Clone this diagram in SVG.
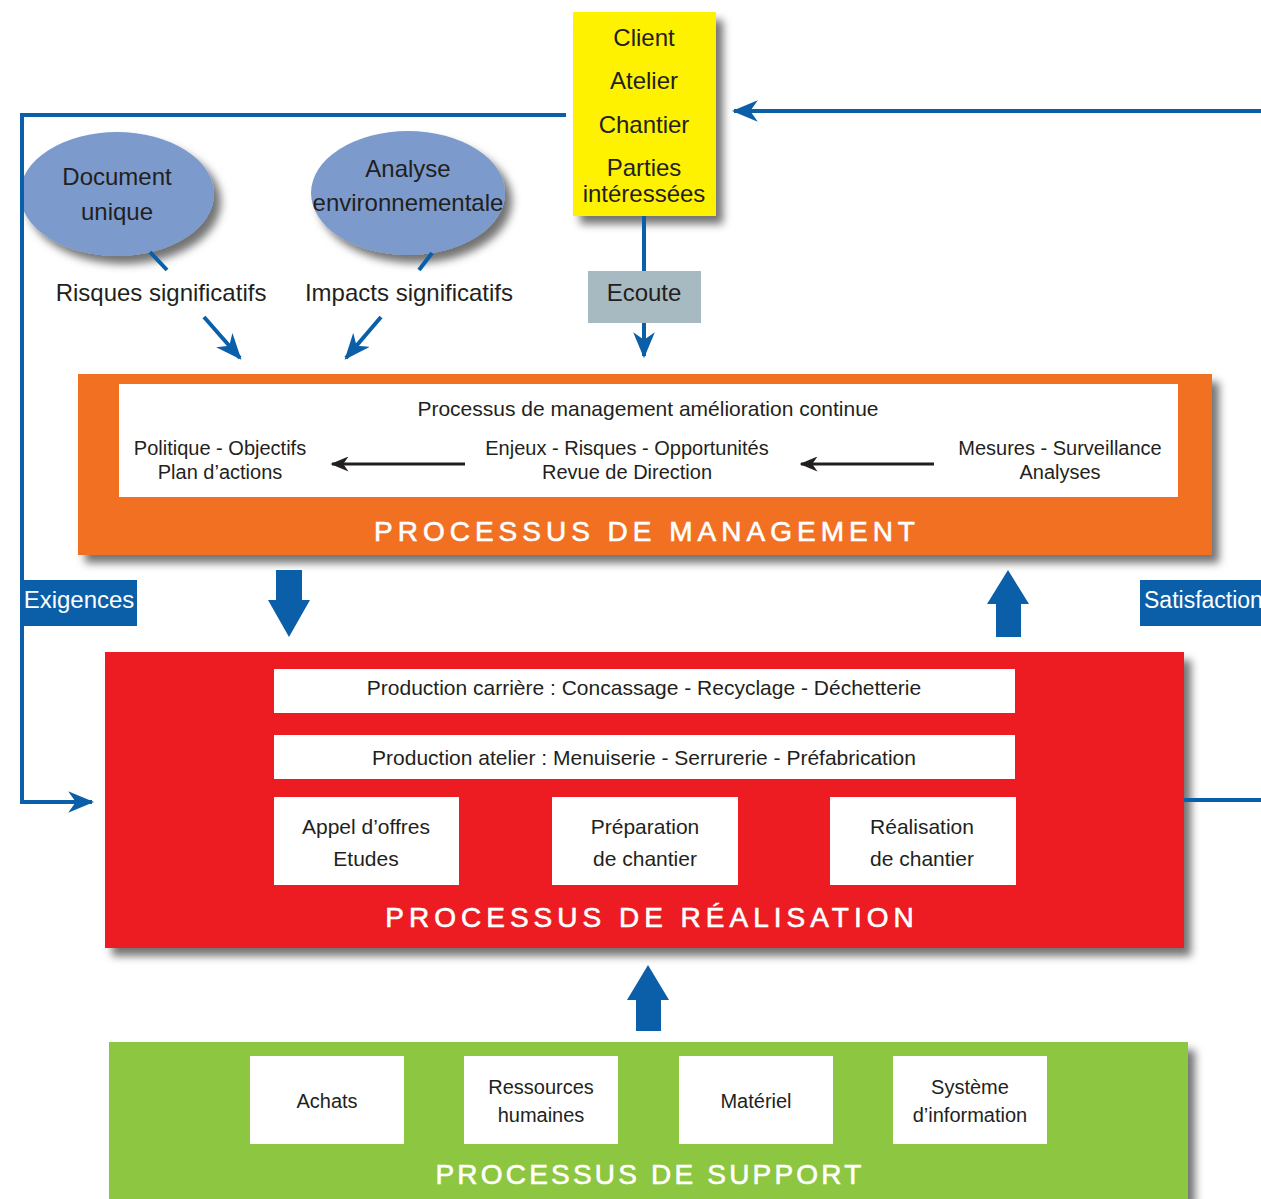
<svg xmlns="http://www.w3.org/2000/svg" width="1261" height="1199" viewBox="0 0 1261 1199">
<style>
.t{font-family:"Liberation Sans",Arial,sans-serif;fill:#231f20;text-anchor:middle}
.lg{font-size:24px}
.md{font-size:21px}
.sm{font-size:20px}
.title{font-family:"Liberation Sans",Arial,sans-serif;fill:#ffffff;stroke:#ffffff;stroke-width:0.6;font-size:28px;letter-spacing:5px;text-anchor:middle}
.lbl{font-family:"Liberation Sans",Arial,sans-serif;fill:#ffffff;font-size:24px;text-anchor:middle}
.blue{stroke:#0b5fa8;stroke-width:4;fill:none}
.black{stroke:#231f20;stroke-width:3;fill:none}
.box{fill:#ffffff}
.fat{fill:#0b5fa8}
</style>
<defs>
<filter id="sh" x="-10%" y="-10%" width="130%" height="140%">
<feDropShadow dx="7" dy="8" stdDeviation="4" flood-color="#000" flood-opacity="0.55"/>
</filter>
<marker id="ab" viewBox="0 0 12 10" refX="11" refY="5" markerWidth="6.5" markerHeight="5.5" orient="auto" markerUnits="strokeWidth">
<path d="M0,0 L12,5 L0,10 L3.5,5 z" fill="#0b5fa8"/>
</marker>
<marker id="ak" viewBox="0 0 12 10" refX="11" refY="5" markerWidth="8" markerHeight="5" orient="auto" markerUnits="strokeWidth">
<path d="M0,0 L12,5 L0,10 L3.5,5 z" fill="#231f20"/>
</marker>
</defs>
<rect width="1261" height="1199" fill="#ffffff"/>

<g id="stakeholders">
<rect x="573" y="12" width="143" height="204" fill="#fff200" filter="url(#sh)"/>
<text class="t lg" x="644" y="46">Client</text>
<text class="t lg" x="644" y="89">Atelier</text>
<text class="t lg" x="644" y="133">Chantier</text>
<text class="t lg" x="644" y="176">Parties</text>
<text class="t lg" x="644" y="202">intéressées</text>
</g>

<g id="ecoute">
<rect x="588" y="271" width="113" height="52" fill="#a7b9c1"/>
<text class="t lg" x="644" y="301">Ecoute</text>
</g>

<g id="document-unique">
<ellipse cx="117" cy="194" rx="97" ry="62" fill="#7b9acc" filter="url(#sh)"/>
<text class="t lg" x="117" y="185">Document</text>
<text class="t lg" x="117" y="220">unique</text>
</g>

<g id="analyse-env">
<ellipse cx="408" cy="193" rx="97" ry="62" fill="#7b9acc" filter="url(#sh)"/>
<text class="t lg" x="408" y="177">Analyse</text>
<text class="t lg" x="408" y="211">environnementale</text>
</g>

<g id="risques-label">
<text class="t lg" x="161" y="301">Risques significatifs</text>
</g>
<g id="impacts-label">
<text class="t lg" x="409" y="301">Impacts significatifs</text>
</g>

<g id="management">
<rect x="78" y="374" width="1134" height="181" fill="#f26f21" filter="url(#sh)"/>
<rect class="box" x="119" y="384" width="1059" height="113"/>
<text class="t md" x="648" y="416">Processus de management amélioration continue</text>
<text class="t sm" x="220" y="455">Politique - Objectifs</text>
<text class="t sm" x="220" y="479">Plan d’actions</text>
<text class="t sm" x="627" y="455">Enjeux - Risques - Opportunités</text>
<text class="t sm" x="627" y="479">Revue de Direction</text>
<text class="t sm" x="1060" y="455">Mesures - Surveillance</text>
<text class="t sm" x="1060" y="479">Analyses</text>
<text class="title" x="647" y="541">PROCESSUS DE MANAGEMENT</text>
</g>

<g id="exigences">
<rect x="22" y="580" width="115" height="46" fill="#0b5fa8"/>
<text class="lbl" x="79" y="608">Exigences</text>
</g>

<g id="satisfaction">
<rect x="1140" y="580" width="125" height="46" fill="#0b5fa8"/>
<text class="lbl" x="1144" y="608" style="text-anchor:start;font-size:23px">Satisfaction</text>
</g>

<g id="realisation">
<rect x="105" y="652" width="1079" height="296" fill="#ed1c24" filter="url(#sh)"/>
<rect class="box" x="274" y="669" width="741" height="44"/>
<text class="t md" x="644" y="695">Production carrière : Concassage - Recyclage - Déchetterie</text>
<rect class="box" x="274" y="735" width="741" height="44"/>
<text class="t md" x="644" y="765">Production atelier : Menuiserie - Serrurerie - Préfabrication</text>
<rect class="box" x="274" y="797" width="185" height="88"/>
<text class="t md" x="366" y="834">Appel d’offres</text>
<text class="t md" x="366" y="866">Etudes</text>
<rect class="box" x="552" y="797" width="186" height="88"/>
<text class="t md" x="645" y="834">Préparation</text>
<text class="t md" x="645" y="866">de chantier</text>
<rect class="box" x="830" y="797" width="186" height="88"/>
<text class="t md" x="922" y="834">Réalisation</text>
<text class="t md" x="922" y="866">de chantier</text>
<text class="title" x="652" y="927">PROCESSUS DE RÉALISATION</text>
</g>

<g id="support">
<rect x="109" y="1042" width="1079" height="170" fill="#8dc63f" filter="url(#sh)"/>
<rect class="box" x="250" y="1056" width="154" height="88"/>
<text class="t sm" x="327" y="1108">Achats</text>
<rect class="box" x="464" y="1056" width="154" height="88"/>
<text class="t sm" x="541" y="1094">Ressources</text>
<text class="t sm" x="541" y="1122">humaines</text>
<rect class="box" x="679" y="1056" width="154" height="88"/>
<text class="t sm" x="756" y="1108">Matériel</text>
<rect class="box" x="893" y="1056" width="154" height="88"/>
<text class="t sm" x="970" y="1094">Système</text>
<text class="t sm" x="970" y="1122">d’information</text>
<text class="title" x="650" y="1184" style="letter-spacing:3.2px">PROCESSUS DE SUPPORT</text>
</g>

<g id="connectors">
<polyline class="blue" points="566,115 22,115 22,802 92,802" marker-end="url(#ab)"/>
<line class="blue" x1="1261" y1="111" x2="734" y2="111" marker-end="url(#ab)"/>
<line class="blue" x1="1184" y1="800" x2="1261" y2="800"/>
<line class="blue" x1="644" y1="216" x2="644" y2="271"/>
<line class="blue" x1="644" y1="323" x2="644" y2="356" marker-end="url(#ab)"/>
<line class="blue" x1="150" y1="252" x2="167" y2="270"/>
<line class="blue" x1="204" y1="317" x2="240" y2="358" marker-end="url(#ab)"/>
<line class="blue" x1="432" y1="253" x2="419" y2="270"/>
<line class="blue" x1="381" y1="317" x2="346" y2="358" marker-end="url(#ab)"/>
<line class="black" x1="465" y1="464" x2="332" y2="464" marker-end="url(#ak)"/>
<line class="black" x1="934" y1="464" x2="801" y2="464" marker-end="url(#ak)"/>
<polygon class="fat" points="276,570 302,570 302,600 310,600 289,637 268,600 276,600"/>
<polygon class="fat" points="996,637 1021,637 1021,604 1029,604 1008,570 987,604 996,604"/>
<polygon class="fat" points="636,1031 661,1031 661,1000 669,1000 648,965 627,1000 636,1000"/>
</g>
</svg>
